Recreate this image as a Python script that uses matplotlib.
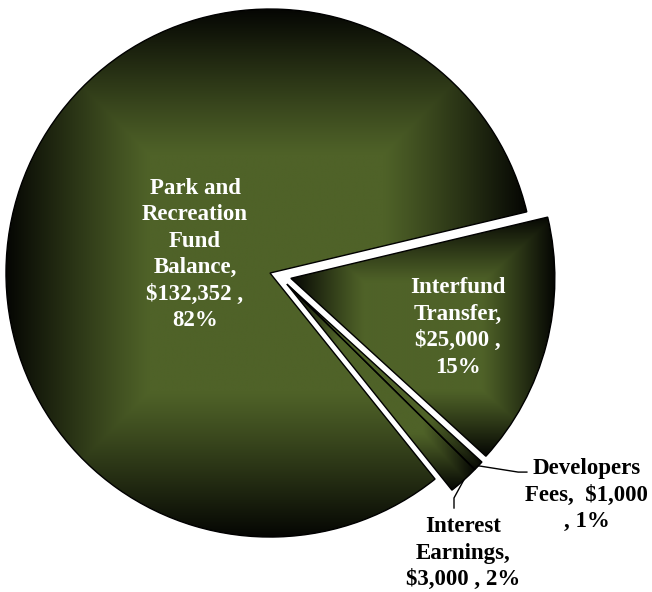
import matplotlib.pyplot as plt
import numpy as np
from matplotlib.colors import to_rgb
from matplotlib.patches import Wedge

# Slices, in drawing order (clockwise)
categories = ["Park and\nRecreation\nFund\nBalance", "Interfund\nTransfer", "Developers\nFees", "Interest\nEarnings"]
amounts = [132352, 25000, 1000, 3000]
label_formats = [
    "{name},\n{value} ,\n{pct}",
    "{name},\n{value} ,\n{pct}",
    "{name},  {value}\n, {pct}",
    "{name},\n{value} , {pct}",
]

START_ANGLE = 308.7
# offset of each slice's tip, in units of the radius
EXPLODE = [(0.0, 0.0), (0.079, -0.020), (0.064, -0.042), (0.064, -0.042)]
LABEL_POS = [(-0.284, 0.070), (0.712, -0.206), (1.200, -0.841), (0.731, -1.061)]
INSIDE = [True, True, False, False]

OLIVE = np.array(to_rgb("#4f6228"))
DARK = np.array(to_rgb("#050603"))
FONT = "Liberation Serif"

plt.rcParams["font.family"] = [FONT, "DejaVu Serif"]


def shade(wedge, ax):
    """Fill a wedge with a rectangular (bevel-like) gradient clipped to it."""
    ext = wedge.get_path().get_extents()
    n = 400
    u = np.linspace(-1, 1, n)
    uu, vv = np.meshgrid(u, u)
    m = np.maximum(np.abs(uu), np.abs(vv))
    s = np.clip((m - 0.45) / 0.55, 0, 1) ** 1.1
    img = OLIVE * (1 - s[..., None]) + DARK * s[..., None]
    im = ax.imshow(img, extent=(ext.x0, ext.x1, ext.y0, ext.y1), origin="lower",
                   interpolation="bilinear", zorder=1)
    im.set_clip_path(wedge)


fig = plt.figure(figsize=(6.52, 5.92), dpi=100)
ax = fig.add_axes([0, 0, 1, 1])
ax.set_xlim(-1.0227, 1.447)
ax.set_ylim(-1.208, 1.034)
ax.set_aspect("equal")
ax.axis("off")

total = sum(amounts)
theta = START_ANGLE
for i, amount in enumerate(amounts):
    span = 360.0 * amount / total
    t2, t1 = theta, theta - span
    theta = t1
    center = EXPLODE[i]
    w = Wedge(center, 1.0, t1, t2, facecolor="none", edgecolor="black", lw=1.0, zorder=3)
    ax.add_patch(w)
    clip = Wedge(center, 1.0, t1, t2, transform=ax.transData)
    shade(clip, ax)

    pct = f"{round(100 * amount / total)}%"
    text = label_formats[i].format(name=categories[i], value=f"${amount:,}", pct=pct)
    lx, ly = LABEL_POS[i]
    ax.text(lx, ly, text, ha="center", va="center", fontsize=16.5, fontweight="bold",
            color="white" if INSIDE[i] else "black", linespacing=1.34, zorder=4)

    if not INSIDE[i]:
        mid = np.deg2rad((t1 + t2) / 2)
        x0 = center[0] + np.cos(mid)
        y0 = center[1] + np.sin(mid)
        if lx > x0 + 0.2:
            # leader runs right toward the label
            pts = [(x0, y0), (lx - 0.26, ly + 0.087), (lx - 0.227, ly + 0.087)]
        else:
            pts = [(x0, y0), (lx - 0.034, ly + 0.209), (lx - 0.034, ly + 0.171)]
        xs, ys = zip(*pts)
        ax.plot(xs, ys, color="black", lw=1.0, zorder=4)

fig.savefig("out.png", dpi=100)
